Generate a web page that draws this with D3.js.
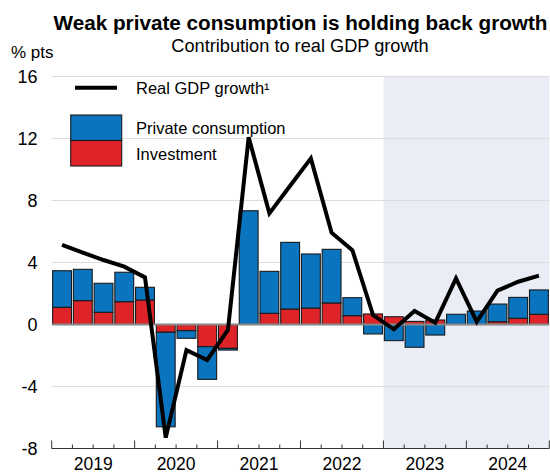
<!DOCTYPE html>
<html>
<head>
<meta charset="utf-8">
<script src="https://cdn.jsdelivr.net/npm/d3@7"></script>
<style>
  body { margin: 0; background: #fff; }
  svg { display: block; font-family: "Liberation Sans", Arial, sans-serif; }
</style>
</head>
<body>
<div id="chart"></div>
<script>
// quarters 2019 Q1 .. 2024 Q4
var years = ["2019", "2020", "2021", "2022", "2023", "2024"];
var quarters = [];
years.forEach(function (y) { [1, 2, 3, 4].forEach(function (q) { quarters.push(y + "Q" + q); }); });

var consumption = [2.36, 2.02, 1.87, 1.9, 0.82, -6.1, -0.49, -2.11, -0.11, 7.34, 2.71,
                   4.3, 3.49, 3.46, 1.16, -0.61, -1.04, -1.47, -0.68, 0.66, 0.87, 1.14, 1.35, 1.57];
var investment = [1.11, 1.54, 0.79, 1.47, 1.58, -0.5, -0.4, -1.43, -1.54, 0, 0.72,
                  1.0, 1.06, 1.39, 0.57, 0.68, 0.5, 0.2, 0.29, 0, 0, 0.18, 0.4, 0.66];
var gdp = [5.13, 4.63, 4.16, 3.73, 3.04, -7.3, -1.65, -2.29, -0.35, 12.08, 7.17,
           8.95, 10.72, 5.92, 4.8, 0.61, -0.31, 0.87, 0.12, 2.98, 0.18, 2.18, 2.76, 3.15];
var yTicks = [-8, -4, 0, 4, 8, 12, 16];
var shadeFrom = "2023Q1";

var width = 550, height = 473;
var margin = { left: 51.7, right: 0.7, top: 76.5, bottom: 24.5 };

var blue = "#0a74bf", red = "#de2429";

var svg = d3.select("#chart").append("svg")
  .attr("width", width)
  .attr("height", height);

var x = d3.scaleBand()
  .domain(quarters)
  .range([margin.left, width - margin.right])
  .paddingInner(0.09)
  .paddingOuter(0.045);

var xq = d3.scaleBand().domain(quarters).range([margin.left, width - margin.right]);

var y = d3.scaleLinear()
  .domain([-8, 16])
  .range([height - margin.bottom, margin.top]);

// shaded area
svg.append("rect")
  .attr("x", xq(shadeFrom))
  .attr("y", y(16))
  .attr("width", width - margin.right - xq(shadeFrom))
  .attr("height", y(-8) - y(16))
  .attr("fill", "#eaedf5");

// gridlines
svg.append("g").selectAll("line")
  .data(yTicks.filter(function (d) { return d !== 0 && d !== -8; }))
  .enter().append("line")
  .attr("x1", margin.left)
  .attr("x2", width - margin.right)
  .attr("y1", function (d) { return y(d); })
  .attr("y2", function (d) { return y(d); })
  .attr("stroke", "#dcdcdc")
  .attr("stroke-width", 1.2);

// y labels
svg.append("g").selectAll("text")
  .data(yTicks)
  .enter().append("text")
  .attr("x", 37.5)
  .attr("y", function (d) { return y(d); })
  .attr("dy", "0.36em")
  .attr("text-anchor", "end")
  .attr("font-size", 18)
  .attr("fill", "#000")
  .text(function (d) { return d; });

// stacked bars: investment from zero, consumption on top of it
var rows = quarters.map(function (q, i) {
  return { q: q, c: consumption[i], inv: investment[i] };
});

function segs(d) {
  var out = [];
  var posBase = 0, negBase = 0;
  [["inv", red], ["c", blue]].forEach(function (p) {
    var v = d[p[0]];
    if (v === 0) return;
    var b;
    if (v > 0) { b = posBase; posBase += v; out.push({ q: d.q, y0: b, y1: posBase, color: p[1] }); }
    else { b = negBase; negBase += v; out.push({ q: d.q, y0: b, y1: negBase, color: p[1] }); }
  });
  return out;
}

var barG = svg.append("g");
rows.forEach(function (d) {
  barG.selectAll(null)
    .data(segs(d))
    .enter().append("rect")
    .attr("x", function (s) { return x(s.q); })
    .attr("width", x.bandwidth())
    .attr("y", function (s) { return y(Math.max(s.y0, s.y1)); })
    .attr("height", function (s) { return Math.abs(y(s.y0) - y(s.y1)); })
    .attr("fill", function (s) { return s.color; })
    .attr("stroke", "#1a1a1a")
    .attr("stroke-width", 1.1);
});

// zero line
svg.append("line")
  .attr("x1", margin.left)
  .attr("x2", width - margin.right)
  .attr("y1", y(0))
  .attr("y2", y(0))
  .attr("stroke", "#8a8a8a")
  .attr("stroke-width", 2);

// GDP line
var line = d3.line()
  .x(function (d, i) { return xq(quarters[i]) + xq.bandwidth() / 2; })
  .y(function (d) { return y(d); });

svg.append("path")
  .datum(gdp)
  .attr("d", line)
  .attr("fill", "none")
  .attr("stroke", "#000")
  .attr("stroke-width", 4)
  .attr("stroke-linejoin", "miter");

// bottom axis, quarterly ticks, longer at year starts
var axisY = y(-8);
svg.append("line")
  .attr("x1", margin.left)
  .attr("x2", width - margin.right)
  .attr("y1", axisY)
  .attr("y2", axisY)
  .attr("stroke", "#333")
  .attr("stroke-width", 1);

var tickPos = quarters.map(function (q) { return xq(q); }).concat([width - margin.right]);
svg.append("g").selectAll("line")
  .data(tickPos)
  .enter().append("line")
  .attr("x1", function (d) { return d; })
  .attr("x2", function (d) { return d; })
  .attr("y1", axisY)
  .attr("y2", function (d, i) { return i % 4 === 0 ? axisY - 8 : axisY - 4; })
  .attr("stroke", "#333")
  .attr("stroke-width", 1);

svg.append("g").selectAll("text")
  .data(years)
  .enter().append("text")
  .attr("x", function (yr) { return xq(yr + "Q1") + xq.bandwidth() * 2; })
  .attr("y", 470)
  .attr("text-anchor", "middle")
  .attr("font-size", 17.5)
  .text(function (d) { return d; });

// titles
svg.append("text")
  .attr("x", 300.5)
  .attr("y", 29.5)
  .attr("text-anchor", "middle")
  .attr("font-size", 20.7)
  .attr("font-weight", "bold")
  .text("Weak private consumption is holding back growth");

svg.append("text")
  .attr("x", 300)
  .attr("y", 51.5)
  .attr("text-anchor", "middle")
  .attr("font-size", 18.2)
  .text("Contribution to real GDP growth");

svg.append("text")
  .attr("x", 11)
  .attr("y", 58)
  .attr("font-size", 17)
  .text("% pts");

// legend
var leg = svg.append("g");
leg.append("line")
  .attr("x1", 75).attr("x2", 117)
  .attr("y1", 87.7).attr("y2", 87.7)
  .attr("stroke", "#000").attr("stroke-width", 4);
leg.append("text")
  .attr("x", 136).attr("y", 88).attr("dy", "0.36em")
  .attr("font-size", 16.5)
  .text("Real GDP growth¹");

var legItems = [
  { label: "Private consumption", color: blue },
  { label: "Investment", color: red }
];
leg.selectAll("rect")
  .data(legItems)
  .enter().append("rect")
  .attr("x", 70.7)
  .attr("y", function (d, i) { return 115 + i * 25.5; })
  .attr("width", 51)
  .attr("height", 25.5)
  .attr("fill", function (d) { return d.color; })
  .attr("stroke", "#1a1a1a")
  .attr("stroke-width", 1.1);
leg.selectAll("text.lab")
  .data(legItems)
  .enter().append("text")
  .attr("class", "lab")
  .attr("x", 136)
  .attr("y", function (d, i) { return 128 + i * 26; })
  .attr("dy", "0.36em")
  .attr("font-size", 16.5)
  .text(function (d) { return d.label; });
</script>
</body>
</html>
